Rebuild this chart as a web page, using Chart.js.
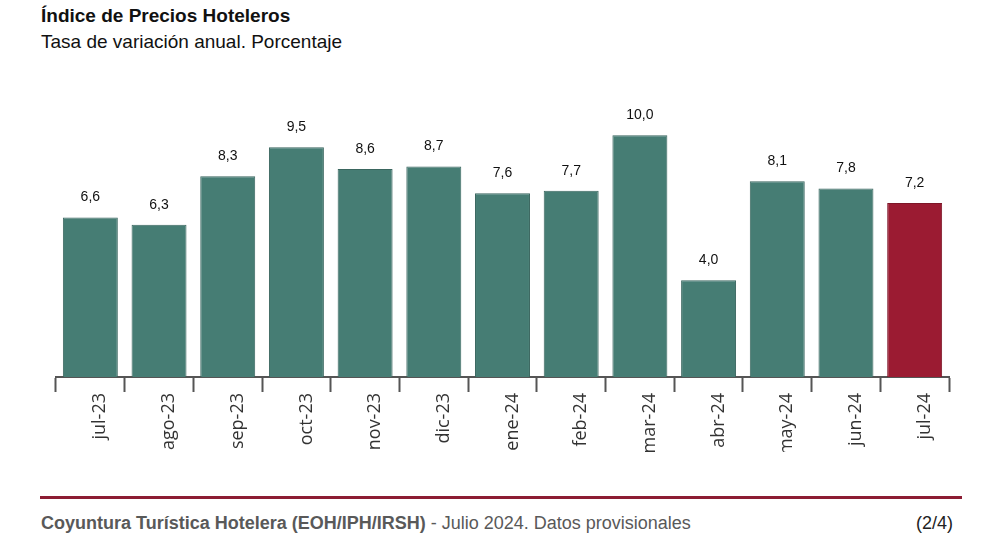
<!DOCTYPE html>
<html>
<head>
<meta charset="utf-8">
<script src="https://cdn.jsdelivr.net/npm/chart.js@4/dist/chart.umd.min.js"></script>
<style>
  body { margin: 0; width: 995px; height: 546px; background: #fff; position: relative; overflow: hidden; font-family: "Liberation Sans", Arial, sans-serif; }
  .title { position: absolute; left: 41px; top: 5px; font-size: 19px; font-weight: bold; color: #111; }
  .subtitle { position: absolute; left: 41px; top: 31px; font-size: 19px; color: #111; }
  .wrap { position: absolute; left: 0; top: 60px; width: 995px; height: 392px; }
  .rule { position: absolute; left: 40px; top: 496px; width: 922px; height: 3px; background: #8c1c33; }
  .foot { position: absolute; left: 41px; top: 513px; font-size: 18px; color: #595959; }
  .foot b { font-weight: bold; }
  .page { position: absolute; right: 42px; top: 513px; font-size: 18px; color: #222; }
</style>
</head>
<body>
<div class="title">Índice de Precios Hoteleros</div>
<div class="subtitle">Tasa de variación anual. Porcentaje</div>
<div class="wrap"><canvas id="graph-iph"></canvas></div>
<div class="rule"></div>
<div class="foot"><b>Coyuntura Turística Hotelera (EOH/IPH/IRSH)</b> - Julio 2024. Datos provisionales</div>
<div class="page">(2/4)</div>
<script>
const months = ["jul-23", "ago-23", "sep-23", "oct-23", "nov-23", "dic-23", "ene-24", "feb-24", "mar-24", "abr-24", "may-24", "jun-24", "jul-24"];
const tasaAnual = [6.6, 6.3, 8.3, 9.5, 8.6, 8.7, 7.6, 7.7, 10.0, 4.0, 8.1, 7.8, 7.2];

const teal = "#467d74";
const red = "#9b1b32";
const barColors = months.map((m, i) => i === months.length - 1 ? red : teal);
const barBorders = months.map((m, i) => i === months.length - 1 ? "#7e1628" : "#3a665f");

// etiquetas encima de cada barra
const valueLabels = {
    id: "valueLabels",
    afterDatasetsDraw(chart) {
        const ctx = chart.ctx;
        const meta = chart.getDatasetMeta(0);
        ctx.save();
        ctx.font = "14px 'Liberation Sans', Arial, sans-serif";
        ctx.fillStyle = "#111";
        ctx.textAlign = "center";
        ctx.textBaseline = "middle";
        meta.data.forEach((bar, i) => {
            ctx.fillText(tasaAnual[i].toFixed(1).replace(".", ","), bar.x, bar.y - 20);
        });
        ctx.restore();
    }
};

new Chart(document.getElementById("graph-iph"), {
    type: "bar",
    data: {
        labels: months,
        datasets: [{
            data: tasaAnual,
            backgroundColor: barColors,
            borderColor: barBorders,
            borderWidth: 1,
            barPercentage: 0.8,
            categoryPercentage: 1
        }]
    },
    options: {
        responsive: true,
        maintainAspectRatio: false,
        animation: false,
        layout: { padding: { left: 56, right: 46, top: 51, bottom: 0 } },
        plugins: { legend: { display: false }, tooltip: { enabled: false } },
        scales: {
            y: { display: false, min: 0, max: 11 },
            x: {
                offset: true,
                border: { color: "#555", width: 2 },
                grid: { offset: true, drawOnChartArea: false, tickLength: 15, tickWidth: 2, color: "#555" },
                ticks: {
                    minRotation: 90,
                    maxRotation: 90,
                    padding: 1,
                    labelOffset: 10,
                    color: "#333",
                    font: { family: "'Open Sans', sans-serif", size: 18 }
                },
                afterFit(scale) { scale.height = 75; }
            }
        }
    },
    plugins: [valueLabels]
});
</script>
</body>
</html>
